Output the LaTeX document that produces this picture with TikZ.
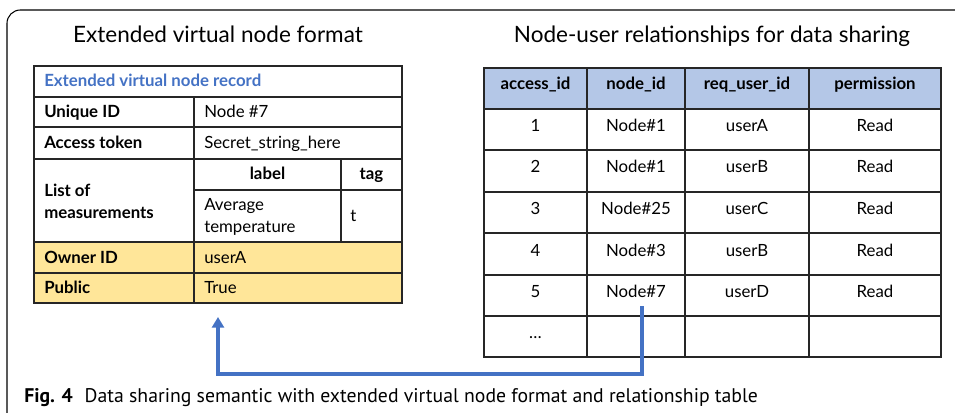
\documentclass[tikz,border=0pt]{standalone}
\usepackage{fontspec}
\setmainfont{Lato}
\newfontfamily\capfont{PT Sans}
\usetikzlibrary{arrows.meta}

\definecolor{linkblue}{HTML}{4472C4}
\definecolor{headblue}{HTML}{B4C7E7}
\definecolor{ownyellow}{HTML}{FFE699}
\definecolor{gridgray}{HTML}{262626}

\tikzset{
  gridline/.style={draw=gridgray, line width=1.1pt},
  celltxt/.style={inner sep=0pt, font=\fontsize{12.6}{16.5}\selectfont},
  lcell/.style={celltxt, anchor=base west},
  ccell/.style={celltxt, anchor=base},
  bcell/.style={lcell, font=\fontsize{12.6}{16.5}\selectfont\bfseries},
  hcell/.style={ccell, font=\fontsize{12.6}{16.5}\selectfont\bfseries},
  paneltitle/.style={inner sep=0pt, anchor=base, font=\fontsize{16.9}{20}\selectfont},
  linkarrow/.style={draw=linkblue, line width=2.8pt,
    -{Triangle[width=9pt,length=8pt]}},
}

\begin{document}
\begin{tikzpicture}[x=0.75pt,y=-0.75pt]
\useasboundingbox (0,0) rectangle (955,413);

% open frame: top and left edges with a rounded corner
\draw[line width=0.8pt, rounded corners=10] (7,413) -- (7,10) -- (955,10);

% ---------- left panel: extended virtual node record ----------
\node[paneltitle] (ltitle) at (218,43) {Extended virtual node format};

\fill[ownyellow] (34,242) rectangle (402,303);
\draw[gridline] (34,66) rectangle (402,303);
\draw[gridline] (34,97) -- (402,97);
\draw[gridline] (34,127) -- (402,127);
\draw[gridline] (34,159) -- (402,159);
\draw[gridline] (194,190) -- (402,190);
\draw[gridline] (34,242) -- (402,242);
\draw[gridline] (34,273) -- (402,273);
\draw[gridline] (194,97) -- (194,303);
\draw[gridline] (341,159) -- (341,242);

\node[bcell, text=linkblue] (rec) at (44,87) {Extended virtual node record};
\node[bcell] (uid) at (44,117.5) {Unique ID};
\node[lcell] (uidv) at (204,117.5) {Node \#7};
\node[bcell] (tok) at (44,148.5) {Access token};
\node[lcell] (tokv) at (204,148.5) {Secret\_string\_here};
\node[celltxt, font=\fontsize{12.6}{16.5}\selectfont\bfseries, anchor=west, align=left] (meas) at (44,201) {List of\\measurements};
\node[hcell] (lab) at (267.5,180) {label};
\node[hcell] (tag) at (371.5,180) {tag};
\node[celltxt, anchor=west, align=left] (avg) at (204,217) {Average\\temperature};
\node[lcell] (tagv) at (350,221.5) {t};
\node[bcell] (own) at (44,263) {Owner ID};
\node[lcell] (ownv) at (204,263) {userA};
\node[bcell] (pub) at (44,293.5) {Public};
\node[lcell] (pubv) at (204,293.5) {True};

% ---------- right panel: node-user relationships ----------
\node[paneltitle] (rtitle) at (712,43) {Node-user relationships for data sharing};

\fill[headblue] (484,68) rectangle (941,109);
\draw[gridline] (484,68) rectangle (941,357);
\foreach \y in {109,150,192,233,275,316}
  \draw[gridline] (484,\y) -- (941,\y);
\foreach \x in {587,685,809}
  \draw[gridline] (\x,68) -- (\x,357);

\node[hcell] (h1) at (535.5,89.5) {access\_id};
\node[hcell] (h2) at (636,89.5) {node\_id};
\node[hcell] (h3) at (747,89.5) {req\_user\_id};
\node[hcell] (h4) at (875,89.5) {permission};

\node[ccell] (a1) at (535.5,131.5) {1};
\node[ccell] (n1) at (636,131.5) {Node\#1};
\node[ccell] (u1) at (747,131.5) {userA};
\node[ccell] (p1) at (875,131.5) {Read};

\node[ccell] (a2) at (535.5,173) {2};
\node[ccell] (n2) at (636,173) {Node\#1};
\node[ccell] (u2) at (747,173) {userB};
\node[ccell] (p2) at (875,173) {Read};

\node[ccell] (a3) at (535.5,214.5) {3};
\node[ccell] (n3) at (636,214.5) {Node\#25};
\node[ccell] (u3) at (747,214.5) {userC};
\node[ccell] (p3) at (875,214.5) {Read};

\node[ccell] (a4) at (535.5,256) {4};
\node[ccell] (n4) at (636,256) {Node\#3};
\node[ccell] (u4) at (747,256) {userB};
\node[ccell] (p4) at (875,256) {Read};

\node[ccell] (a5) at (535.5,297.5) {5};
\node[ccell] (n5) at (636,297.5) {Node\#7};
\node[ccell] (u5) at (747,297.5) {userD};
\node[ccell] (p5) at (875,297.5) {Read};

\node[ccell] (a6) at (535.5,338.5) {\dots};

% ---------- link from the Node#7 row back to the record ----------
\coordinate (src) at (642,306);
\coordinate (dst) at (218,317);
\coordinate (bend) at (218,374);
\draw[linkarrow] (src) |- (bend) -- (dst);

% ---------- caption ----------
\node[inner sep=0pt, anchor=base west, font=\capfont\fontsize{14.8}{17}\selectfont] (cap) at (24,402)
  {\textbf{Fig. 4}\hspace{0.6em}Data sharing semantic with extended virtual node format and relationship table};
\end{tikzpicture}
\end{document}
